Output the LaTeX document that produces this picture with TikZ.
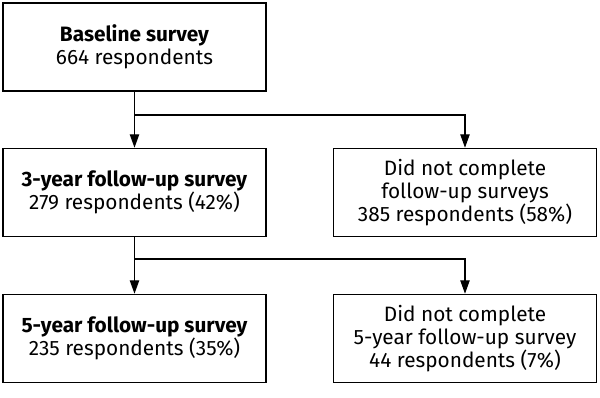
\documentclass[tikz,border=0pt]{standalone}
\usepackage{fontspec}
\setmainfont{Fira Sans}
\usetikzlibrary{arrows.meta}
\begin{document}
\begin{tikzpicture}[x=0.75pt,y=-0.75pt,
  box/.style={draw=black, line width=1.2pt, minimum width=263*0.75pt, minimum height=88*0.75pt, inner sep=0pt, align=center, font=\fontsize{15.6pt}{17.4pt}\selectfont},
  conn/.style={line width=0.9pt, -{Triangle[length=10pt,width=7pt]}}]
\useasboundingbox (0,0) rectangle (600,397);
\node[box] (B) at (134.5,47) {\textbf{Baseline survey}\\664 respondents};
\node[box] (T3) at (134.5,192.5) {\textbf{3-year follow-up survey}\\279 respondents (42\%)};
\node[box] (R1) at (465,192.5) {Did not complete\\follow-up surveys\\385 respondents (58\%)};
\node[box] (T5) at (134.5,338.5) {\textbf{5-year follow-up survey}\\235 respondents (35\%)};
\node[box] (R2) at (465,338.5) {Did not complete\\5-year follow-up survey\\44 respondents (7\%)};
\coordinate (j1) at (134.5,115);
\coordinate (j2) at (134.5,259);
\draw[conn] (B.south) -- (T3.north);
\draw[conn] (j1) -| (R1.north);
\draw[conn] (T3.south) -- (T5.north);
\draw[conn] (j2) -| (R2.north);
\end{tikzpicture}
\end{document}
